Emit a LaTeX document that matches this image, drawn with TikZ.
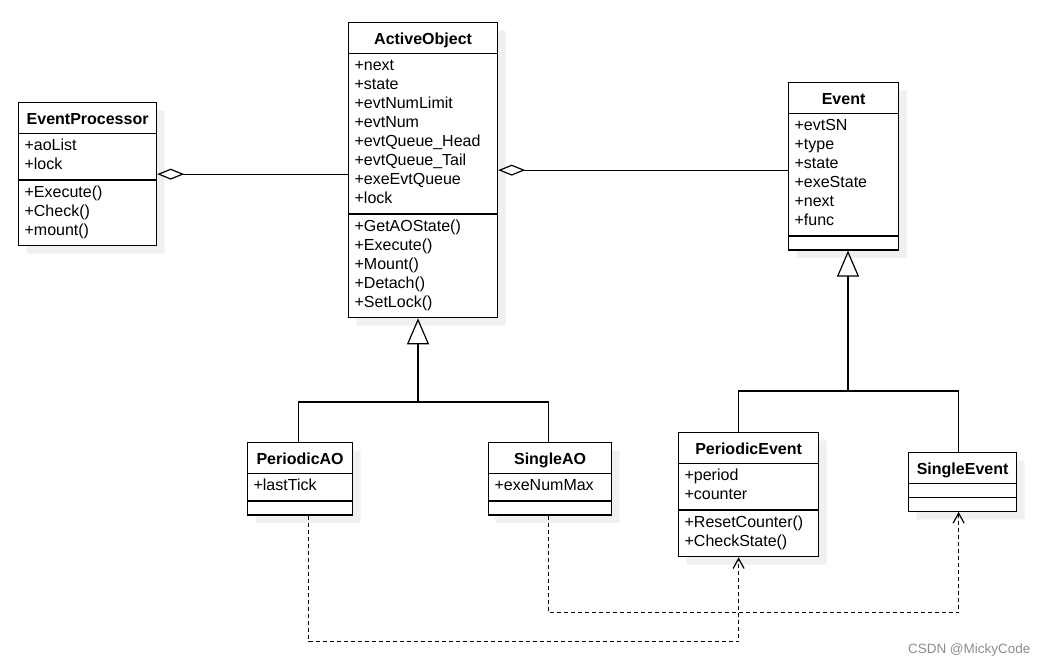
\documentclass[tikz,border=0pt]{standalone}
\usepackage{fontspec}
\setmainfont{Liberation Sans}
\usetikzlibrary{shapes.multipart,arrows.meta,shadows}

\tikzset{
	classbox/.style={draw, line width=1.2pt, fill=white, rectangle split, rectangle split parts=3,
		rectangle split part align={center,left,left}, inner xsep=6pt, inner ysep=3.75pt,
		rectangle split empty part height=4pt, rectangle split empty part depth=0pt,
		general shadow={fill=black!6, shadow xshift=8pt, shadow yshift=-8pt},
		anchor=north west, font=\fontsize{16}{19}\selectfont},
	link/.style={line width=1.2pt},
	aggr/.style={link, {Diamond[open,length=27pt,width=11pt]}-},
	gen/.style={link, -{Triangle[open,length=26pt,width=22pt]}},
	dep/.style={link, dash pattern=on 4pt off 3pt, -{Straight Barb[length=10pt,width=11pt]}}
}
\newcommand{\classtitle}[1]{\textbf{#1}\rule[-4pt]{0pt}{22pt}}

\begin{document}
\begin{tikzpicture}[x=1pt, y=-1pt]
			\fill[white] (0,0) rectangle (1049,668);
			\useasboundingbox (0,0) rectangle (1049,668);

			\node[classbox, minimum width=138pt] (ep) at (18,102) {\classtitle{EventProcessor}
				\nodepart{two}
				\begin{tabular}{@{}l@{}}
					+aoList\\
					+lock
				\end{tabular}
				\nodepart{three}
				\begin{tabular}{@{}l@{}}
					+Execute()\\
					+Check()\\
					+mount()
				\end{tabular}
			};
			\node[classbox, minimum width=149pt] (ao) at (348,22) {\classtitle{ActiveObject}
				\nodepart{two}
				\begin{tabular}{@{}l@{}}
					+next\\
					+state\\
					+evtNumLimit\\
					+evtNum\\
					+evtQueue\_Head\\
					+evtQueue\_Tail\\
					+exeEvtQueue\\
					+lock
				\end{tabular}
				\nodepart{three}
				\begin{tabular}{@{}l@{}}
					+GetAOState()\\
					+Execute()\\
					+Mount()\\
					+Detach()\\
					+SetLock()
				\end{tabular}
			};
			\node[classbox, minimum width=110pt] (ev) at (788,82) {\classtitle{Event}
				\nodepart{two}
				\begin{tabular}{@{}l@{}}
					+evtSN\\
					+type\\
					+state\\
					+exeState\\
					+next\\
					+func
				\end{tabular}
				\nodepart{three}
			};
			\node[classbox, minimum width=105pt] (pao) at (247,442) {\classtitle{PeriodicAO}
				\nodepart{two}
				\begin{tabular}{@{}l@{}}
					+lastTick
				\end{tabular}
				\nodepart{three}
			};
			\node[classbox, minimum width=123pt] (sao) at (488,442) {\classtitle{SingleAO}
				\nodepart{two}
				\begin{tabular}{@{}l@{}}
					+exeNumMax
				\end{tabular}
				\nodepart{three}
			};
			\node[classbox, minimum width=140pt] (pev) at (678,432) {\classtitle{PeriodicEvent}
				\nodepart{two}
				\begin{tabular}{@{}l@{}}
					+period\\
					+counter
				\end{tabular}
				\nodepart{three}
				\begin{tabular}{@{}l@{}}
					+ResetCounter()\\
					+CheckState()
				\end{tabular}
			};
			\node[classbox, minimum width=108pt] (sev) at (908,452) {\classtitle{SingleEvent}
				\nodepart{two}
				\nodepart{three}
			};

			\draw[aggr] (ep.east) -- (ep.east -| ao.west);
			\draw[aggr] (ao.east) -- (ao.east -| ev.west);

			\coordinate (aojoin) at (418,402);
			\coordinate (evjoin) at (848,391);
			\draw[gen] (aojoin) -- (aojoin |- ao.south);
			\draw[link] ([xshift=-1.5pt]pao.north) |- (aojoin) -| ([xshift=-1.5pt]sao.north);
			\draw[gen] (evjoin) -- (evjoin |- ev.south);
			\draw[link] ([xshift=-10pt]pev.north) |- (evjoin) -| ([xshift=-4pt]sev.north);

			\draw[dep] ([xshift=8.5pt]pao.south) -- ++(0,126) -| ([xshift=-10pt]pev.south);
			\draw[dep] ([xshift=-1.5pt]sao.south) -- ++(0,97) -| ([xshift=-4pt]sev.south);

			\node[text=black!45, font=\fontsize{13.5}{16}\selectfont, anchor=east] (mark) at (1034,650) {CSDN @MickyCode};
		\end{tikzpicture}
\end{document}
